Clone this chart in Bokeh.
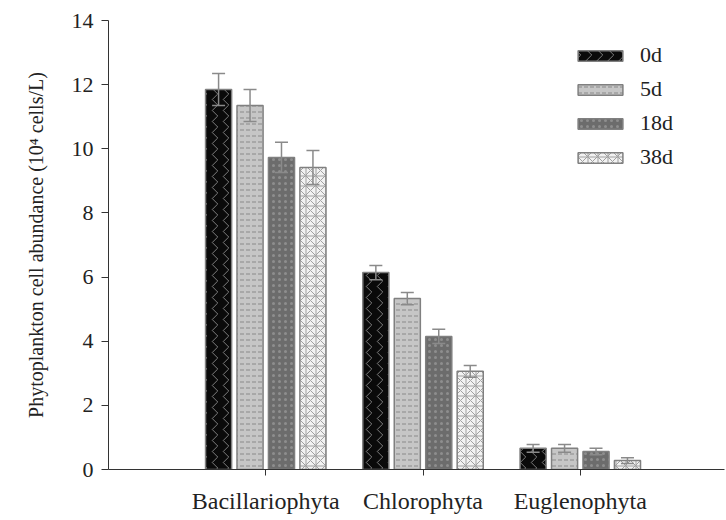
from bokeh.plotting import figure
from bokeh.models import ColumnDataSource, Range1d, FixedTicker, Whisker, TeeHead, Legend, LegendItem
from bokeh.embed import file_html
from bokeh.resources import INLINE

categories = ["Bacillariophyta", "Chlorophyta", "Euglenophyta"]
series = ["0d", "5d", "18d", "38d"]
mean_0d = [11.85, 6.14, 0.66]
mean_5d = [11.35, 5.33, 0.66]
mean_18d = [9.73, 4.15, 0.56]
mean_38d = [9.42, 3.06, 0.28]
err_0d = [0.50, 0.22, 0.12]
err_5d = [0.50, 0.19, 0.12]
err_18d = [0.47, 0.22, 0.10]
err_38d = [0.53, 0.18, 0.09]
y_ticks = [0, 2, 4, 6, 8, 10, 12, 14]

means = [mean_0d, mean_5d, mean_18d, mean_38d]
errs = [err_0d, err_5d, err_18d, err_38d]

styles = [
    dict(fill_color="#0a0a0a", hatch_pattern="vertical_wave", hatch_color="#7c7c7c", hatch_scale=11, hatch_weight=1),
    dict(fill_color="#c6c6c6", hatch_pattern="horizontal_dash", hatch_color="#8a8a8a", hatch_scale=6, hatch_weight=1),
    dict(fill_color="#6c6c6c", hatch_pattern="dot", hatch_color="#8e8e8e", hatch_scale=6, hatch_weight=1),
    dict(fill_color="#f2f2f2", hatch_pattern="criss_cross", hatch_color="#a0a0a0", hatch_scale=10, hatch_weight=1),
]
offsets = [-0.3, -0.1, 0.1, 0.3]
bar_w = 0.166

FONT = "Liberation Serif"

p = figure(width=726, height=520, output_backend="svg", toolbar_location=None,
           x_range=Range1d(0, 3.917), y_range=Range1d(0, 14),
           min_border_left=108, min_border_right=2, min_border_top=20, min_border_bottom=51)
p.xgrid.visible = False
p.ygrid.visible = False
p.outline_line_color = None
p.background_fill_color = "white"
p.border_fill_color = "white"

items = []
for k, name in enumerate(series):
    xs = [i + 1 + offsets[k] for i in range(len(categories))]
    src = ColumnDataSource(dict(x=xs, top=means[k],
                                upper=[m + e for m, e in zip(means[k], errs[k])],
                                lower=[m - e for m, e in zip(means[k], errs[k])]))
    r = p.vbar(x="x", top="top", bottom=0, width=bar_w, source=src,
               line_color="#808080", line_width=1.5, **styles[k])
    w = Whisker(source=src, base="x", upper="upper", lower="lower", dimension="height",
                line_color="#8a8a8a", line_width=1.5, level="overlay",
                upper_head=TeeHead(size=13, line_color="#8a8a8a", line_width=1.5),
                lower_head=TeeHead(size=13, line_color="#8a8a8a", line_width=1.5))
    p.add_layout(w)
    items.append(LegendItem(label=name, renderers=[r]))

legend = Legend(items=items, location=(464, 299), glyph_width=56, glyph_height=13,
                label_standoff=12, spacing=8, label_height=22, padding=0, margin=0,
                border_line_color=None, background_fill_alpha=0,
                label_text_font=FONT, label_text_font_size="22px", label_text_color="#222222")
p.add_layout(legend, "center")

xa = p.xaxis[0]
xa.ticker = FixedTicker(ticks=[1, 2, 3])
xa.major_label_overrides = {1: categories[0], 2: categories[1], 3: categories[2]}
xa.major_label_text_font = FONT
xa.major_label_text_font_size = "24px"
xa.major_label_text_color = "#222222"
xa.major_label_standoff = 12
xa.major_tick_in = 0
xa.major_tick_out = 6
xa.minor_tick_line_color = None
xa.axis_line_color = "#333333"
xa.major_tick_line_color = "#333333"

ya = p.yaxis[0]
ya.ticker = FixedTicker(ticks=y_ticks)
ya.major_label_text_font = FONT
ya.major_label_text_font_size = "22px"
ya.major_label_text_color = "#222222"
ya.major_label_standoff = 8
ya.major_tick_in = 0
ya.major_tick_out = 7
ya.minor_tick_line_color = None
ya.axis_line_color = "#333333"
ya.major_tick_line_color = "#333333"
ya.axis_label = "Phytoplankton cell abundance (10\u2074 cells/L)"
ya.axis_label_text_font = FONT
ya.axis_label_text_font_size = "20px"
ya.axis_label_text_font_style = "normal"
ya.axis_label_text_color = "#222222"
ya.axis_label_standoff = 22

open("out.html", "w").write(file_html(p, INLINE))
